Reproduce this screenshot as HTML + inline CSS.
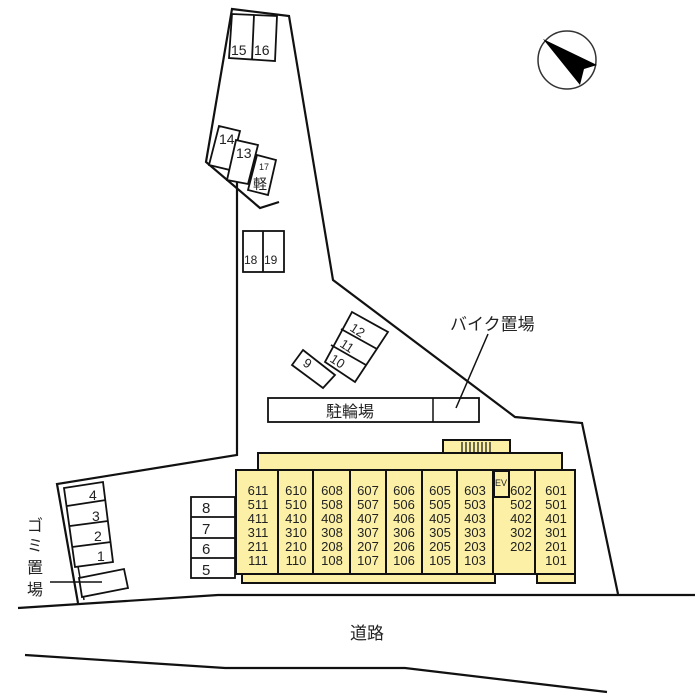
<!DOCTYPE html>
<html><head><meta charset="utf-8"><style>
body{margin:0;background:#fff}
svg{display:block}
text{font-family:"Liberation Sans","Noto Sans CJK JP",sans-serif;fill:#222}
</style></head><body>
<svg width="700" height="700" viewBox="0 0 700 700" xmlns="http://www.w3.org/2000/svg">
<g fill="none" stroke="#111" stroke-width="2.2" stroke-linejoin="miter">
<polyline points="279,202 260,208 206,162 232,9 289,16 333,280 515,417 582,423 618,594"/>
<polyline points="237,180 237,455 57,484 78,603"/>
<line x1="64" y1="488" x2="84" y2="600" stroke-width="1.5"/>
<polyline points="18,608 218,595 695,595"/>
<polyline points="25,655 225,668 405,668 607,692"/>
</g>
<text x="367" y="639" font-size="17" text-anchor="middle">道路</text>

<circle cx="567" cy="60" r="29" fill="none" stroke="#333" stroke-width="1.5"/>
<polygon points="543,39 597,65 584,69 580,85" fill="#000"/>

<g fill="#fff" stroke="#111" stroke-width="1.8">
<polygon points="232,14 277,16 275,61 229,58"/>
<line x1="254" y1="15" x2="252" y2="60"/>
<polygon points="219,126 240,131 230,170 209,165"/>
<polygon points="236,140 258,145 248,184 227,180"/>
<polygon points="257,155 276,160 268,195 248,190"/>
<rect x="243" y="231" width="41" height="41"/>
<line x1="263" y1="231" x2="263" y2="272"/>
</g>
<g font-size="14">
<text x="231" y="55">15</text><text x="254" y="55">16</text>
<text x="219" y="144">14</text><text x="236" y="158">13</text>
<text x="259" y="170" font-size="9">17</text><text x="253" y="189" font-size="14">軽</text>
<text x="244" y="264" font-size="12">18</text><text x="264" y="264" font-size="12">19</text>
</g>

<g fill="#fff" stroke="#111" stroke-width="1.8">
<polygon points="352,312 388,332 355,382 325,362"/>
<line x1="341" y1="329" x2="377" y2="349"/>
<line x1="331" y1="345" x2="366" y2="365"/>
<polygon points="303,350 335,375 323,388 292,365"/>
</g>
<g font-size="13">
<text x="0" y="0" transform="translate(349,330) rotate(33)">12</text>
<text x="0" y="0" transform="translate(339,346) rotate(33)">11</text>
<text x="0" y="0" transform="translate(329,361) rotate(33)">10</text>
<text x="0" y="0" transform="translate(302,365) rotate(33)">9</text>
</g>

<rect x="268" y="398" width="211" height="24" fill="#fff" stroke="#111" stroke-width="1.8"/>
<line x1="433" y1="398" x2="433" y2="422" stroke="#111" stroke-width="1.5"/>
<text x="350" y="417" font-size="16" text-anchor="middle">駐輪場</text>
<text x="450" y="330" font-size="17">バイク置場</text>
<line x1="488" y1="334" x2="456" y2="408" stroke="#111" stroke-width="1.5"/>

<g fill="#fff" stroke="#111" stroke-width="1.8">
<polygon points="64,488 103,482 113,562 75,567"/>
<line x1="67" y1="506" x2="106" y2="500"/>
<line x1="70" y1="526" x2="108" y2="521"/>
<line x1="72" y1="547" x2="111" y2="542"/>
<polygon points="79,578 124,569 128,588 82,597"/>
</g>
<g font-size="14">
<text x="89" y="500">4</text><text x="92" y="521">3</text><text x="94" y="541">2</text><text x="97" y="561">1</text>
</g>
<g font-size="16">
<text x="27" y="531">ゴ</text><text x="27" y="551">ミ</text><text x="27" y="573">置</text><text x="27" y="595">場</text>
</g>
<line x1="50" y1="582" x2="102" y2="582" stroke="#111" stroke-width="1.5"/>

<g fill="#fff" stroke="#111" stroke-width="1.8">
<rect x="191" y="497" width="44" height="81"/>
<line x1="191" y1="517" x2="235" y2="517"/>
<line x1="191" y1="538" x2="235" y2="538"/>
<line x1="191" y1="558" x2="235" y2="558"/>
</g>
<g font-size="15">
<text x="202" y="513">8</text><text x="202" y="534">7</text><text x="202" y="554">6</text><text x="202" y="575">5</text>
</g>

<g fill="#fbf0a5" stroke="#111" stroke-width="2">
<rect x="443" y="440" width="67" height="14"/>
<rect x="258" y="453" width="304" height="18"/>
<rect x="242" y="573" width="253" height="10"/>
<rect x="537" y="573" width="38" height="10"/>
<rect x="236" y="470" width="339" height="104"/>
<line x1="278" y1="470" x2="278" y2="574"/>
<line x1="313" y1="470" x2="313" y2="574"/>
<line x1="350" y1="470" x2="350" y2="574"/>
<line x1="386" y1="470" x2="386" y2="574"/>
<line x1="422" y1="470" x2="422" y2="574"/>
<line x1="457" y1="470" x2="457" y2="574"/>
<line x1="493" y1="470" x2="493" y2="574"/>
<line x1="535" y1="470" x2="535" y2="574"/>
<rect x="494" y="471" width="15" height="26"/>
</g>
<g stroke="#111" stroke-width="1.2">
<line x1="462" y1="442" x2="462" y2="453"/><line x1="466" y1="442" x2="466" y2="453"/>
<line x1="470" y1="442" x2="470" y2="453"/><line x1="474" y1="442" x2="474" y2="453"/>
<line x1="478" y1="442" x2="478" y2="453"/><line x1="482" y1="442" x2="482" y2="453"/>
<line x1="486" y1="442" x2="486" y2="453"/><line x1="490" y1="442" x2="490" y2="453"/>
</g>
<text x="495" y="486" font-size="9">EV</text>
<g font-size="13" text-anchor="middle">
<text x="258" y="495">611</text><text x="258" y="509">511</text><text x="258" y="523">411</text><text x="258" y="537">311</text><text x="258" y="551">211</text><text x="258" y="565">111</text>
<text x="296" y="495">610</text><text x="296" y="509">510</text><text x="296" y="523">410</text><text x="296" y="537">310</text><text x="296" y="551">210</text><text x="296" y="565">110</text>
<text x="332" y="495">608</text><text x="332" y="509">508</text><text x="332" y="523">408</text><text x="332" y="537">308</text><text x="332" y="551">208</text><text x="332" y="565">108</text>
<text x="368" y="495">607</text><text x="368" y="509">507</text><text x="368" y="523">407</text><text x="368" y="537">307</text><text x="368" y="551">207</text><text x="368" y="565">107</text>
<text x="404" y="495">606</text><text x="404" y="509">506</text><text x="404" y="523">406</text><text x="404" y="537">306</text><text x="404" y="551">206</text><text x="404" y="565">106</text>
<text x="440" y="495">605</text><text x="440" y="509">505</text><text x="440" y="523">405</text><text x="440" y="537">305</text><text x="440" y="551">205</text><text x="440" y="565">105</text>
<text x="475" y="495">603</text><text x="475" y="509">503</text><text x="475" y="523">403</text><text x="475" y="537">303</text><text x="475" y="551">203</text><text x="475" y="565">103</text>
<text x="521" y="495">602</text><text x="521" y="509">502</text><text x="521" y="523">402</text><text x="521" y="537">302</text><text x="521" y="551">202</text>
<text x="556" y="495">601</text><text x="556" y="509">501</text><text x="556" y="523">401</text><text x="556" y="537">301</text><text x="556" y="551">201</text><text x="556" y="565">101</text>
</g>
</svg>
</body></html>
